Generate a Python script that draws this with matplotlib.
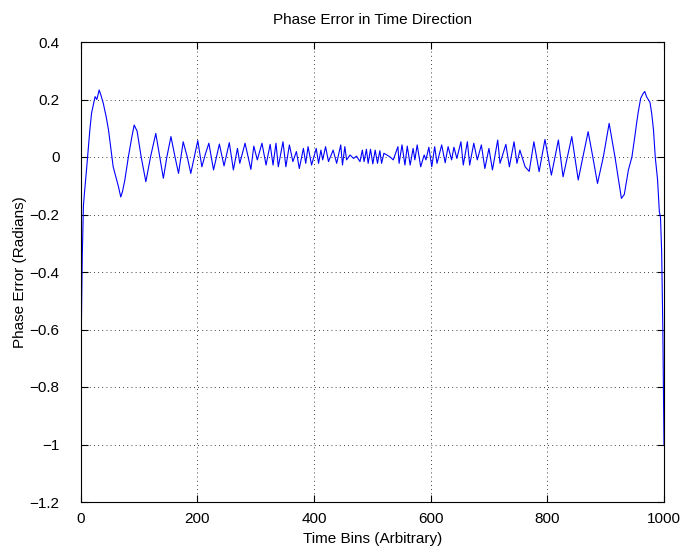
import matplotlib
matplotlib.use("Agg")
import matplotlib.pyplot as plt

# values (peaks, troughs and a few points in between)
time_bins = [
    0, 1, 3, 5, 7, 11, 16, 19, 25, 28, 32, 35, 39, 44, 48, 56, 62, 65, 69, 72,
    76, 82, 88, 92, 97, 104, 112, 120, 129, 135, 142, 148, 155, 162, 168, 176,
    183, 189, 195, 201, 208, 214, 220, 228, 238, 246, 255,
    262, 269, 273, 282, 292, 297, 303, 311, 318, 325, 330, 335, 339, 347, 352,
    358, 364, 370, 375, 382, 386, 390, 396, 404, 408, 412, 415, 420, 425,
    433, 439, 446, 449, 453, 456, 462, 468, 473, 479, 483, 486, 490, 493, 497,
    501, 505, 509, 513, 516, 520, 525, 530, 536, 544, 546, 551, 556, 560, 565,
    570, 573, 577, 583, 589, 592, 597,
    602, 607, 611, 619, 625, 630, 636, 640, 645, 652, 656, 663, 667, 674, 680,
    687, 693, 700, 706, 715, 719, 729, 735, 743, 748, 753, 762, 769,
    777, 786, 796, 807, 819, 827, 842, 853, 861, 870, 878, 886, 896, 906, 916,
    927, 932, 939, 945, 950, 953, 956, 960, 964, 967, 970, 976, 979, 982, 985,
    989, 992, 994, 996, 997, 998, 999, 1000,
]
phase_error = [
    -1.0, -0.67, -0.35, -0.17, -0.12, -0.028, 0.094, 0.153, 0.21, 0.20, 0.233,
    0.215, 0.187, 0.14, 0.094, -0.034, -0.08, -0.103, -0.139, -0.12,
    -0.08, 0.0, 0.07, 0.111, 0.09, 0.0, -0.086, 0.0, 0.082, 0.01, -0.074, 0.0,
    0.071, 0.0, -0.057, 0.053,
    0.0, -0.057, 0.0, 0.057, -0.034, 0.01, 0.048, -0.045, 0.045, -0.031, 0.05,
    -0.045, 0.03, -0.022, 0.048, -0.043, 0.038, -0.01, 0.048, -0.028, 0.044,
    -0.028, 0.048, -0.034, 0.053, -0.034,
    0.042, -0.016, 0.019, -0.04, 0.03, -0.022, 0.036, -0.028, 0.03, -0.022,
    0.024, -0.01, 0.036, -0.016,
    0.024, -0.022, 0.042, -0.028, 0.036, -0.01, 0.007, -0.005, 0.003, -0.016,
    0.024, -0.016, 0.027, -0.022, 0.027,
    -0.024, 0.024, -0.022, 0.022, -0.022, 0.013, 0.007, 0.001, -0.01, 0.036,
    -0.022, 0.042, -0.028, 0.038, -0.028,
    0.03, -0.01, 0.042, -0.034, 0.007, -0.01, 0.034,
    -0.034, 0.036, -0.022, 0.042, -0.02, 0.036, -0.01, 0.034, -0.005, 0.053,
    -0.028, 0.053, -0.028, 0.048, -0.01,
    0.042, -0.04, 0.03, -0.045, 0.059, -0.022, 0.044, -0.034, 0.053, -0.022,
    0.024, -0.034, -0.05,
    0.053, -0.051, 0.061, -0.063, 0.059, -0.069, 0.071, -0.08, 0.0, 0.088, 0.0,
    -0.092, 0.0, 0.117, 0.0,
    -0.144, -0.13, -0.045, 0.0, 0.071, 0.117, 0.158, 0.204, 0.22, 0.228, 0.21,
    0.19, 0.15, 0.094, 0.0,
    -0.08, -0.19, -0.21, -0.33, -0.46, -0.6, -0.8, -1.0,
]
assert len(time_bins) == len(phase_error)

x_ticks = [0, 200, 400, 600, 800, 1000]
y_ticks = [-1.2, -1.0, -0.8, -0.6, -0.4, -0.2, 0.0, 0.2, 0.4]
y_tick_labels = ['\u22121.2', '\u22121', '\u22120.8', '\u22120.6', '\u22120.4',
                 '\u22120.2', '0', '0.2', '0.4']

plt.rcParams['font.family'] = ['Liberation Sans', 'DejaVu Sans']
plt.rcParams['font.size'] = 11

fig = plt.figure(figsize=(6.91, 5.57), dpi=100)
ax = fig.add_axes([80.5 / 691, 55 / 557, (664 - 80.5) / 691, 460 / 557])

ax.plot(time_bins, phase_error, color=(0, 0, 1), linewidth=0.8)

ax.set_xlim(0, 1000)
ax.set_ylim(-1.2, 0.4)
ax.set_xticks(x_ticks)
ax.set_xticklabels([str(t) for t in x_ticks])
ax.set_yticks(y_ticks)
ax.set_yticklabels(y_tick_labels)
ax.tick_params(direction='in', top=True, right=True, length=5, width=0.8,
               labelsize=11)
ax.tick_params(axis='x', pad=7.5)
ax.tick_params(axis='y', pad=15)
ax.grid(True, color='k', linestyle=(0, (1, 4)), linewidth=0.6)
for s in ax.spines.values():
    s.set_linewidth(0.8)

ax.set_title('Phase Error in Time Direction', fontsize=11, pad=13)
ax.set_xlabel('Time Bins (Arbitrary)', fontsize=11, labelpad=4)
ax.set_ylabel('Phase Error (Radians)', fontsize=11, labelpad=2)

fig.savefig('out.png', dpi=100)
